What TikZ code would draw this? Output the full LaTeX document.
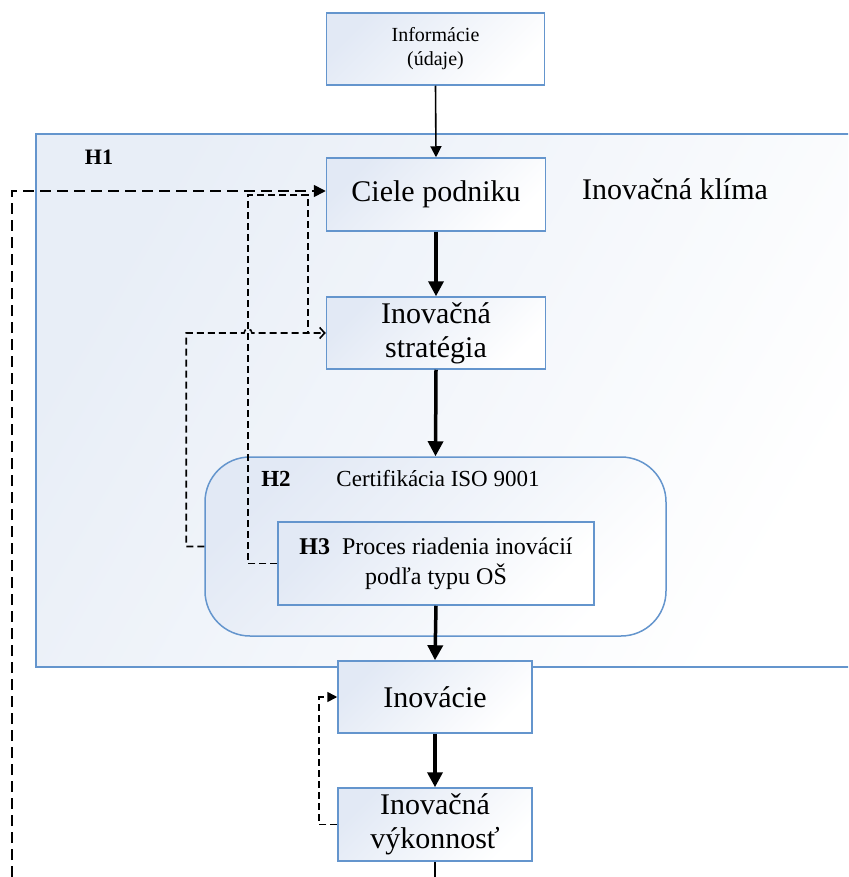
\documentclass[tikz,border=0pt]{standalone}
\usepackage{fontspec}
\setmainfont{Liberation Serif}
\usetikzlibrary{arrows.meta}
\definecolor{edgeblue}{RGB}{100,149,205}
\definecolor{paleblue}{RGB}{226,233,245}
\definecolor{framefill}{RGB}{232,238,247}
\tikzset{
  box/.style={draw=edgeblue, line width=1.5pt, top color=paleblue, bottom color=white,
    shading angle=45, align=center, inner sep=0pt},
  bigtext/.style={font=\fontsize{30}{34}\selectfont},
  midtext/.style={font=\fontsize{23}{30}\selectfont},
  flow/.style={line width=3.5pt, -{Triangle[length=15pt,width=15pt]}},
  feed/.style={line width=1.6pt, -{Triangle[length=11pt,width=11pt]}},
  longdash/.style={line width=1.7pt, dash pattern=on 11pt off 6pt},
  shortdash/.style={line width=1.6pt, dash pattern=on 7pt off 4pt},
}
\begin{document}
\begin{tikzpicture}[x=1pt, y=1pt]
\useasboundingbox (0,0) rectangle (848,-877);
\clip (0,0) rectangle (848,-877);
\fill[white] (0,0) rectangle (848,-877);

% innovation climate frame
\node[draw=edgeblue, line width=1.5pt, left color=framefill, right color=white,
      shading angle=60, minimum width=824, minimum height=533, inner sep=0pt]
      (climate) at (448,-400.5) {};
\node[font=\fontsize{22}{26}\selectfont\bfseries] (h1) at (99,-157) {H1};
\node[bigtext] (climatelabel) at (675,-189) {Inovačná klíma};

% ISO certification block
\node[box, rounded corners=45, minimum width=461, minimum height=179]
      (cert) at (435.5,-546.5) {};
\node[font=\fontsize{23}{28}\selectfont\bfseries] (h2) at (276,-479) {H2};
\node[midtext] (certlabel) at (438,-479) {Certifikácia ISO 9001};

% process boxes
\node[box, font=\fontsize{20}{24}\selectfont, minimum width=218, minimum height=72]
      (info) at (435.5,-49) {Informácie\\(údaje)};
\node[box, bigtext, minimum width=219, minimum height=73]
      (ciele) at (436,-194.5) {Ciele podniku};
\node[box, bigtext, minimum width=219, minimum height=72]
      (strat) at (436,-333) {Inovačná\\stratégia};
\node[box, font=\fontsize{24}{30}\selectfont, minimum width=316, minimum height=83]
      (proc) at (436,-563.5) {\textbf{H3}\enspace Proces riadenia inovácií\\podľa typu OŠ};
\node[box, bigtext, minimum width=194, minimum height=72]
      (inov) at (435,-697) {Inovácie};
\node[box, bigtext, minimum width=194, minimum height=73]
      (vyk) at (435,-824.5) {Inovačná\\výkonnosť};

% main flow
\coordinate (exit) at (435,-877);
\draw[feed] (info.south) -- (ciele.north);
\draw[flow] (ciele.south) -- (strat.north);
\draw[flow] (strat.south) -- (cert.north);
\draw[flow] (proc.south) -- (inov.north);
\draw[flow] (inov.south) -- (vyk.north);
\draw[line width=1.6pt] (vyk.south) -- (exit);

% feedback loops
\coordinate (lb) at (12,-877);
\draw[longdash, -{Triangle[length=12pt,width=12pt]}] (lb) |- ([yshift=3.5pt]ciele.west);

\coordinate (j1) at (248,-195);
\coordinate (j2) at (308,-195);
\coordinate (j3) at (308,-333);
\draw[shortdash] (proc.west) -| (j1) -- (j2) -- (j3);

\coordinate (hop) at (244,-333);
\draw[shortdash, -{Straight Barb[length=5pt,width=11pt]}]
  (cert.west) -- ++(-18,0) |- (hop) arc[start angle=180, end angle=0, radius=4] -- (strat.west);

\draw[shortdash, -{Triangle[length=10pt,width=10pt]}] (vyk.west) -- ++(-18,0) |- (inov.west);
\end{tikzpicture}
\end{document}
